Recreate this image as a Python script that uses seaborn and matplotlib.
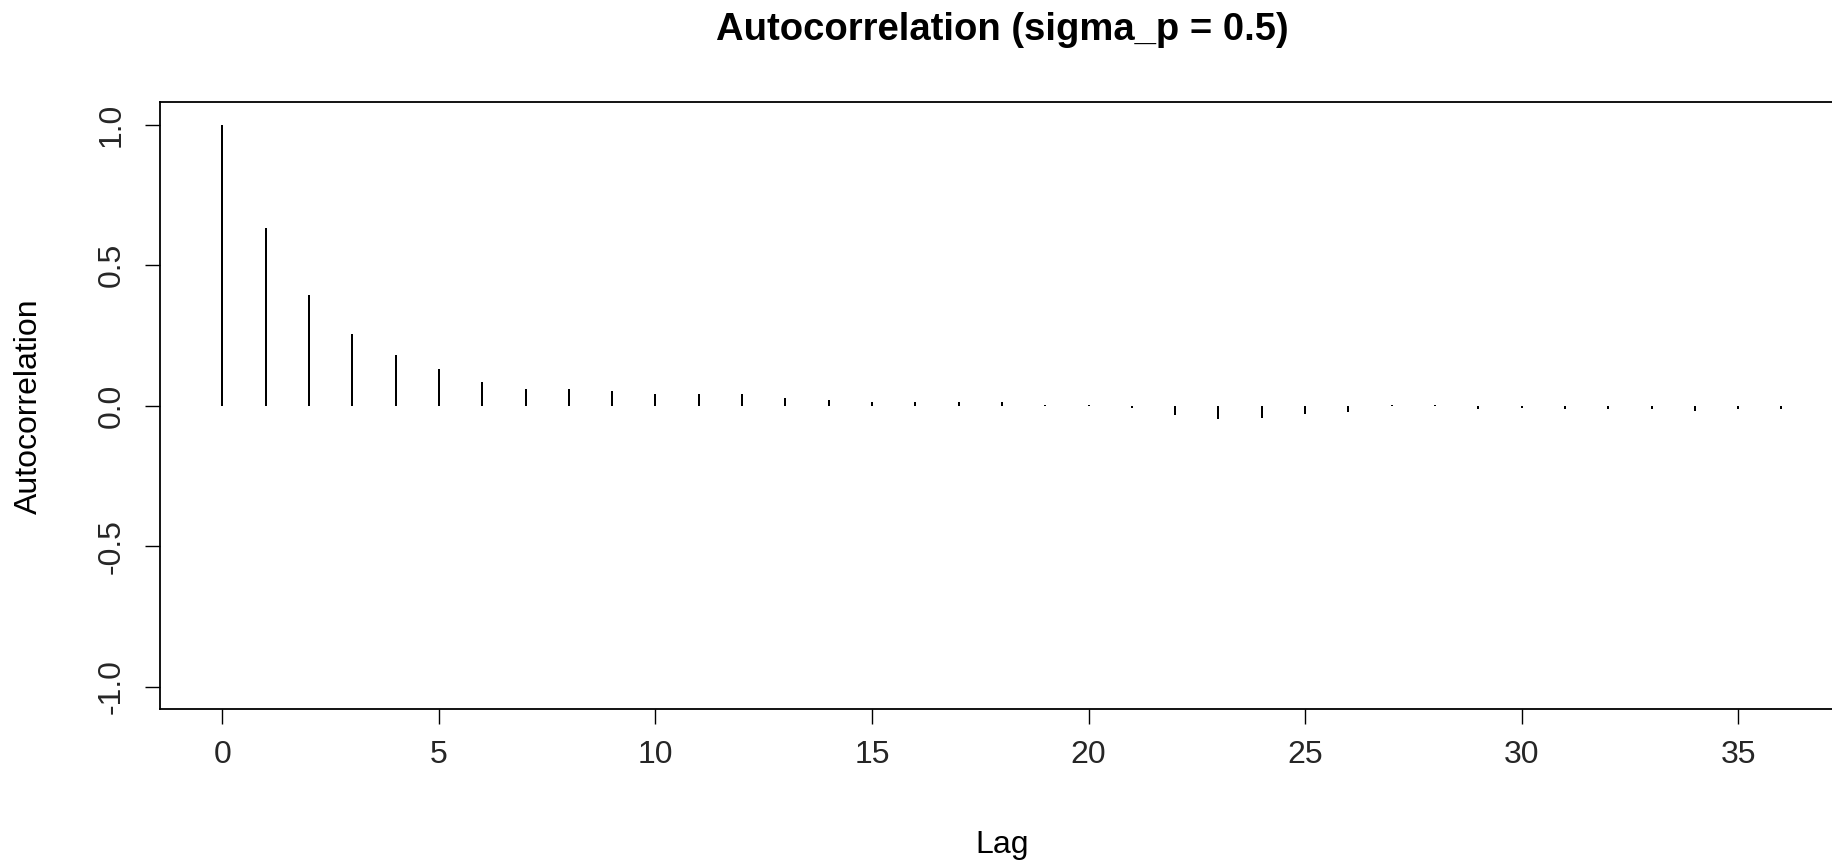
import numpy as np
import pandas as pd
import matplotlib
matplotlib.use("Agg")
import matplotlib.pyplot as plt
import seaborn as sns

# ---- data ----
lags = list(range(0, 37))
acf_values = [1.0, 0.634, 0.395, 0.254, 0.180, 0.132, 0.084, 0.061, 0.061, 0.052,
              0.043, 0.043, 0.043, 0.027, 0.020, 0.014, 0.014, 0.013, 0.012, 0.004,
              0.003, -0.008, -0.033, -0.046, -0.042, -0.030, -0.022, 0.003, 0.002,
              -0.010, -0.009, -0.013, -0.013, -0.010, -0.018, -0.013, -0.011]
x_ticks = [0, 5, 10, 15, 20, 25, 30, 35]
y_ticks = [-1.0, -0.5, 0.0, 0.5, 1.0]
y_tick_labels = ["-1.0", "-0.5", "0.0", "0.5", "1.0"]
title = "Autocorrelation (sigma_p = 0.5)"
x_label = "Lag"
y_label = "Autocorrelation"

df = pd.DataFrame({"lag": lags, "acf": acf_values})

sns.set_theme(style="ticks")
plt.rcParams["font.family"] = ["Liberation Sans", "DejaVu Sans"]
plt.rcParams["axes.linewidth"] = 1.3
plt.rcParams["xtick.major.width"] = 1.0
plt.rcParams["ytick.major.width"] = 1.0

fig = plt.figure(figsize=(18.33, 8.64), dpi=100)
ax = fig.add_axes([160 / 1833, (864 - 709.3) / 864, 1683.8 / 1833, 607 / 864])

x_min, x_max = -1.44, 37.44
px_per_lag = 1683.8 / (x_max - x_min)
sns.barplot(data=df, x="lag", y="acf", native_scale=True, width=2.0 / px_per_lag,
            color="black", saturation=1, linewidth=0, ax=ax)

ax.set_xlim(x_min, x_max)
ax.set_ylim(-1.08, 1.08)
ax.set_xticks(x_ticks)
ax.set_xticklabels([str(t) for t in x_ticks], fontsize=23)
ax.set_yticks(y_ticks)
ax.set_yticklabels(y_tick_labels, fontsize=23, rotation=90, va="center")
ax.tick_params(axis="both", direction="out", length=11, color="black")
ax.tick_params(axis="x", pad=11)
ax.tick_params(axis="y", pad=13)

for s in ax.spines.values():
    s.set_visible(True)
    s.set_color("black")

ax.set_xlabel(x_label, fontsize=23, labelpad=43, color="black")
ax.set_ylabel(y_label, fontsize=23, labelpad=38, color="black")
ax.set_title(title, fontsize=27.5, fontweight="bold", pad=44.5, color="black")

fig.savefig("out.png", dpi=100, facecolor="white")
